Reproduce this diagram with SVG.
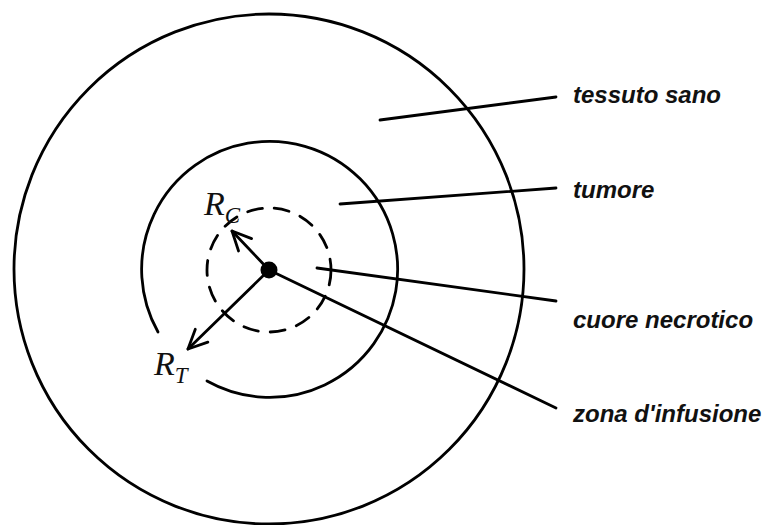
<svg xmlns="http://www.w3.org/2000/svg" width="782" height="525" viewBox="0 0 782 525">
<style>
.ln{fill:none;stroke:#000;stroke-width:2.8;stroke-linecap:round}
.lbl{font-family:"Liberation Sans",Arial,sans-serif;font-weight:bold;font-style:italic;font-size:24px;fill:#111}
.math{font-family:"Liberation Serif","Times New Roman",serif;font-style:italic;fill:#111}
</style>
<defs>
<marker id="arr" viewBox="0 0 24 24" refX="22" refY="12" markerWidth="24" markerHeight="24" markerUnits="userSpaceOnUse" orient="auto">
<path d="M3,3 L22,12 L3,21" fill="none" stroke="#000" stroke-width="2.8" stroke-linecap="round" stroke-linejoin="round"/>
</marker>
</defs>
<rect width="782" height="525" fill="#fff"/>
<g id="tessuto-sano">
<circle class="ln" cx="269" cy="269" r="255"/>
<text class="lbl" x="573" y="103">tessuto sano</text>
</g>
<g id="tumore">
<path class="ln" d="M158,332 A128,128 0 1 1 207,381"/>
<text class="lbl" x="573" y="198">tumore</text>
</g>
<g id="cuore-necrotico">
<circle class="ln" cx="269" cy="270" r="62" stroke-dasharray="15 12" stroke-linecap="butt"/>
<text class="lbl" x="573" y="328">cuore necrotico</text>
</g>
<g id="zona-infusione">
<circle cx="269" cy="270" r="8.5" fill="#000"/>
<text class="lbl" x="573" y="422">zona d'infusione</text>
</g>
<g id="radii">
<line class="ln" x1="269" y1="270" x2="232" y2="231" marker-end="url(#arr)"/>
<line class="ln" x1="269" y1="270" x2="188" y2="349" marker-end="url(#arr)"/>
<text class="math" x="204" y="215" font-size="34">R<tspan font-size="23" dy="8">C</tspan></text>
<text class="math" x="154" y="375" font-size="34">R<tspan font-size="23" dy="8">T</tspan></text>
</g>
<g id="connectors">
<line class="ln" x1="380" y1="120" x2="556" y2="97"/>
<line class="ln" x1="340" y1="204" x2="556" y2="188"/>
<line class="ln" x1="317" y1="268" x2="556" y2="301"/>
<line class="ln" x1="269" y1="270" x2="556" y2="408"/>
</g>
</svg>
